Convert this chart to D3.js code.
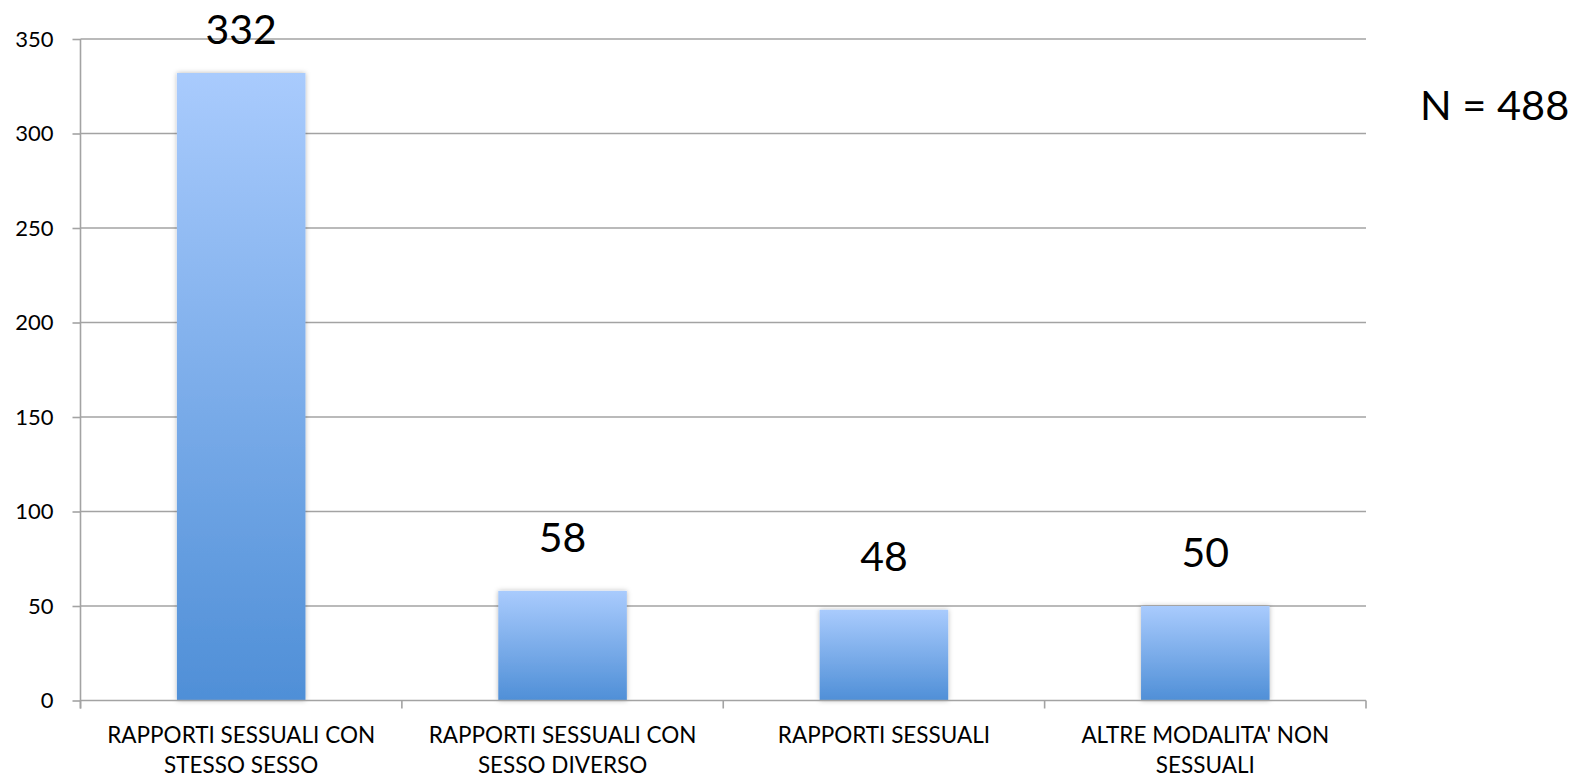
<!DOCTYPE html>
<html>
<head>
<meta charset="utf-8">
<script src="https://cdn.jsdelivr.net/npm/d3@7"></script>
<style>
  html, body { margin: 0; padding: 0; background: #fff; }
  svg { display: block; font-family: Lato, "Open Sans", sans-serif; }
</style>
</head>
<body>
<svg id="chart" width="1578" height="779"></svg>
<script>
const categories = [
  ["RAPPORTI SESSUALI CON", "STESSO SESSO"],
  ["RAPPORTI SESSUALI CON", "SESSO DIVERSO"],
  ["RAPPORTI SESSUALI"],
  ["ALTRE MODALITA' NON", "SESSUALI"]
];
const values = [332, 58, 48, 50];
const yTicks = [0, 50, 100, 150, 200, 250, 300, 350];
const noteText = "N = 488";

(function () {
const svg = d3.select("#chart");
const mLeft = 80.5, mRight = 1366, mTop = 39, mBottom = 700.5;

const keys = categories.map((c, i) => i);
const x = d3.scaleBand().domain(keys).range([mLeft, mRight]).padding(0);
const y = d3.scaleLinear().domain([0, 350]).range([mBottom, mTop]);

const defs = svg.append("defs");
const grad = defs.append("linearGradient").attr("id", "barGrad")
  .attr("x1", 0).attr("y1", 0).attr("x2", 0).attr("y2", 1);
grad.append("stop").attr("offset", "0%").attr("stop-color", "#a9cbfd");
grad.append("stop").attr("offset", "100%").attr("stop-color", "#4f8fd7");
const filt = defs.append("filter").attr("id", "shadow")
  .attr("x", "-10%").attr("y", "-5%").attr("width", "120%").attr("height", "110%");
filt.append("feDropShadow").attr("dx", 0).attr("dy", 0).attr("stdDeviation", 2.5)
  .attr("flood-color", "#000").attr("flood-opacity", 0.28);

// gridlines
svg.append("g").selectAll("line").data(yTicks.filter(t => t > 0)).join("line")
  .attr("x1", mLeft).attr("x2", mRight)
  .attr("y1", d => y(d)).attr("y2", d => y(d))
  .attr("stroke", "#a3a3a3").attr("stroke-width", 1.6);

// bars
const barW = x.bandwidth() * 0.4;
svg.append("g").selectAll("rect").data(values).join("rect")
  .attr("x", (d, i) => x(i) + (x.bandwidth() - barW) / 2)
  .attr("y", d => y(d))
  .attr("width", barW)
  .attr("height", d => y(0) - y(d))
  .attr("fill", "url(#barGrad)")
  .attr("filter", "url(#shadow)");

// y axis
const yAxis = d3.axisLeft(y).tickValues(yTicks).tickSize(8).tickPadding(19);
const gy = svg.append("g").attr("transform", `translate(${mLeft},0)`).call(yAxis);
gy.select(".domain").remove();
gy.selectAll(".tick line").attr("stroke", "#a3a3a3").attr("stroke-width", 1.6);
gy.selectAll(".tick text").attr("font-size", 22).attr("fill", "#000")
  .attr("font-family", "Lato, sans-serif");
svg.append("line").attr("x1", mLeft).attr("x2", mLeft).attr("y1", mTop).attr("y2", mBottom + 8)
  .attr("stroke", "#a3a3a3").attr("stroke-width", 1.6);

// x axis baseline + ticks
svg.append("line").attr("x1", mLeft).attr("x2", mRight).attr("y1", mBottom).attr("y2", mBottom)
  .attr("stroke", "#a3a3a3").attr("stroke-width", 1.6);
const edges = keys.map(k => x(k)).concat([mRight]);
svg.append("g").selectAll("line").data(edges).join("line")
  .attr("x1", d => d).attr("x2", d => d).attr("y1", mBottom).attr("y2", mBottom + 8)
  .attr("stroke", "#a3a3a3").attr("stroke-width", 1.6);

// category labels
const catG = svg.append("g").selectAll("text").data(categories).join("text")
  .attr("x", (d, i) => x(i) + x.bandwidth() / 2)
  .attr("y", 743)
  .attr("text-anchor", "middle")
  .attr("font-size", 22.5)
  .attr("fill", "#000");
catG.selectAll("tspan").data(d => d).join("tspan")
  .attr("x", function() { return d3.select(this.parentNode).attr("x"); })
  .attr("dy", (d, i) => i === 0 ? 0 : 30)
  .text(d => d);

// value labels
svg.append("g").selectAll("text").data(values).join("text")
  .attr("x", (d, i) => x(i) + x.bandwidth() / 2)
  .attr("y", d => Math.max(y(d) - 39, 44))
  .attr("text-anchor", "middle")
  .attr("font-size", 41)
  .attr("fill", "#000")
  .text(d => d);

// N note
svg.append("text").attr("x", 1420).attr("y", 120)
  .attr("font-size", 41.5).attr("fill", "#000").text(noteText);
})();
</script>
</body>
</html>
